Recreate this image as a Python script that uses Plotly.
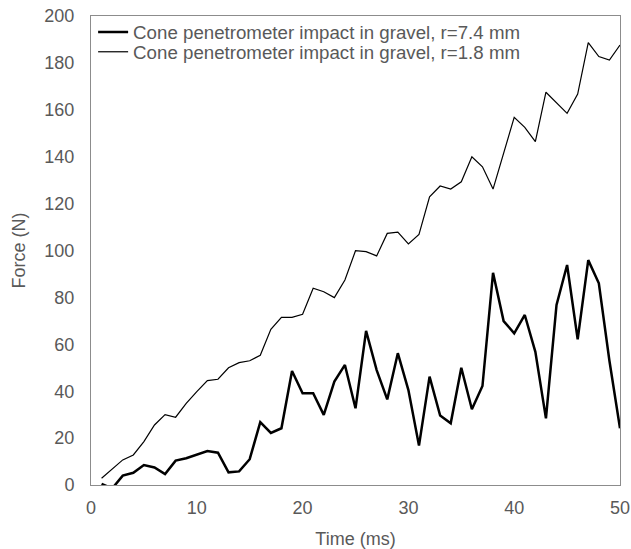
import plotly.graph_objects as go

time_ms = list(range(1, 51))
force_r74 = [0.5, -1.5, 4.0, 5.2, 8.5, 7.5, 4.7, 10.4, 11.4, 13.1,
             14.5, 13.8, 5.4, 5.8, 11.0, 26.8, 22.2, 24.2, 48.6, 39.1,
             39.1, 29.9, 44.1, 51.2, 32.7, 65.7, 49.0, 36.5, 56.2, 40.5,
             16.8, 46.2, 29.6, 26.3, 50.0, 32.3, 42.2, 90.5, 69.9, 64.7,
             72.5, 56.8, 28.4, 76.8, 93.8, 62.1, 95.9, 86.0, 53.0, 24.2]
force_r18 = [2.9, 6.7, 10.7, 12.8, 18.5, 25.6, 30.0, 28.9, 34.8, 39.8,
             44.5, 45.1, 50.0, 52.2, 53.0, 55.3, 66.4, 71.5, 71.5, 72.8,
             83.9, 82.4, 79.9, 87.4, 99.9, 99.5, 97.7, 107.3, 107.8, 102.8,
             106.9, 122.9, 127.5, 126.2, 129.3, 140.0, 135.7, 126.2, 142.0, 156.8,
             152.5, 146.4, 167.5, 163.0, 158.5, 166.7, 188.6, 182.7, 181.2, 187.6]
names = ["Cone penetrometer impact in gravel, r=7.4 mm",
         "Cone penetrometer impact in gravel, r=1.8 mm"]

FONT = "Liberation Sans, Arial, sans-serif"
GRAY = "#595959"

fig = go.Figure()
fig.add_trace(go.Scatter(x=time_ms, y=force_r74, mode="lines", name=names[0],
                         line=dict(color="black", width=2.5), legend="legend"))
fig.add_trace(go.Scatter(x=time_ms, y=force_r18, mode="lines", name=names[1],
                         line=dict(color="black", width=1.2), legend="legend2"))

leg_common = dict(x=0.004, xanchor="left", yanchor="middle", bgcolor="rgba(0,0,0,0)",
                  font=dict(family=FONT, size=18.7, color=GRAY), itemwidth=30)
fig.update_layout(
    width=631, height=549,
    margin=dict(l=91, r=11, t=16, b=64, autoexpand=False),
    paper_bgcolor="white", plot_bgcolor="white",
    font=dict(family=FONT, size=18, color=GRAY),
    showlegend=True,
    legend=dict(y=0.965, **leg_common),
    legend2=dict(y=0.923, **leg_common),
    xaxis=dict(range=[0, 50], dtick=10, showgrid=False, zeroline=False,
               showline=True, mirror=True, linecolor="#8c8c8c", linewidth=1,
               ticks="", tickfont=dict(size=18, color=GRAY), automargin=False,
               ticklabelstandoff=6,
               title=dict(text="Time (ms)", font=dict(size=18, color=GRAY), standoff=16)),
    yaxis=dict(range=[0, 200], dtick=20, showgrid=False, zeroline=False,
               showline=True, mirror=True, linecolor="#8c8c8c", linewidth=1,
               ticks="", tickfont=dict(size=18, color=GRAY), automargin=False,
               ticklabelstandoff=12,
               title=dict(text="Force (N)", font=dict(size=18, color=GRAY), standoff=14)),
)
fig.write_html("out.html", config={"displayModeBar": False},
               post_script="document.body.style.margin='0';document.body.style.padding='0';document.body.style.overflow='hidden';")
